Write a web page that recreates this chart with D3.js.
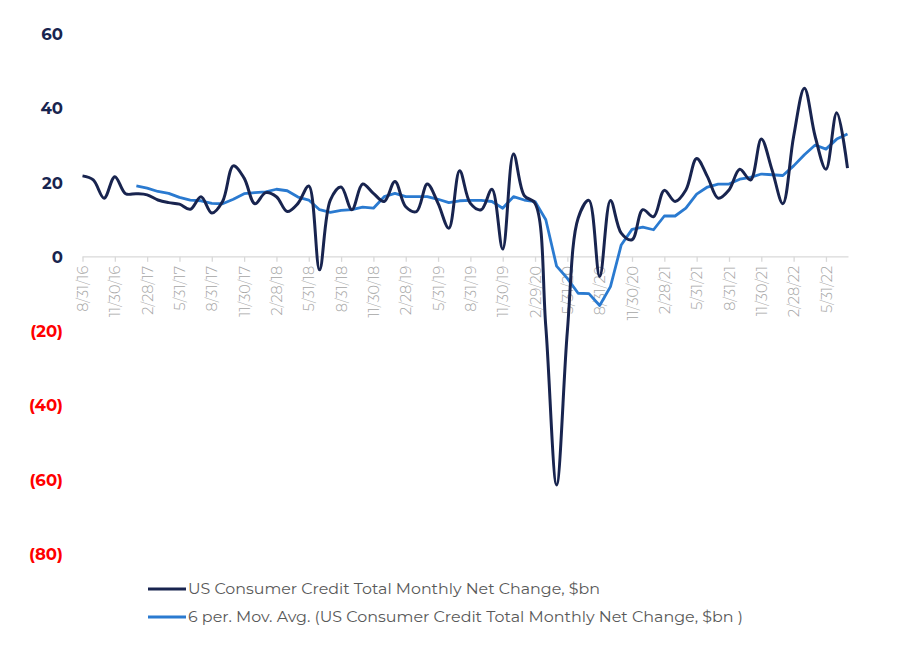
<!DOCTYPE html>
<html>
<head>
<meta charset="utf-8">
<script src="https://cdn.jsdelivr.net/npm/d3@7"></script>
<style>
  html, body { margin: 0; padding: 0; background: #fff; }
  svg { display: block; }
</style>
</head>
<body>
<svg id="chart" width="900" height="652"></svg>
<script>
// ---- data ----
const tickLabels = ["8/31/16","11/30/16","2/28/17","5/31/17","8/31/17","11/30/17","2/28/18","5/31/18",
  "8/31/18","11/30/18","2/28/19","5/31/19","8/31/19","11/30/19","2/29/20","5/31/20","8/31/20",
  "11/30/20","2/28/21","5/31/21","8/31/21","11/30/21","2/28/22","5/31/22"];
const yTicks = [60, 40, 20, 0, -20, -40, -60, -80];

const monthly = [21.8,20.7,15.8,21.6,17,17,16.7,15.3,14.6,14.2,12.8,16.2,11.8,14.9,24.5,21.2,14.3,17.3,
  16.2,12.2,14.4,19.1,-3.5,15.3,18.8,12.7,19.6,17.1,14.9,20.3,13.5,12.2,19.6,14.4,7.7,23.2,14.4,12.7,
  18.2,2.1,27.7,16.5,14.4,-18.8,-61.4,-20,10.4,15.2,-5.3,15.2,6.4,4.6,12.7,10.8,17.9,14.9,18,26.5,
  21.6,15.8,18,23.6,20.7,31.7,23.4,14.3,32.4,45.4,32.4,23.6,38.8,23.9];

const movAvg = [null,null,null,null,null,19.1,18.5,17.6,17.1,16,15.3,15.1,14.4,14.3,15.5,17,17.3,17.5,
  18.2,17.8,16.1,15.3,12.7,12,12.5,12.7,13.4,13.1,16.2,17.1,16.2,16.2,16.2,15.5,14.6,15.1,15.2,15.2,
  14.9,13.1,16.2,15.3,14.9,10,-2.5,-5.8,-9.8,-9.9,-13.1,-8,3.2,7.4,8,7.3,11,11,13.1,16.9,18.8,19.6,
  19.6,20.9,21.4,22.3,22.1,21.9,24.5,27.5,30.1,29,31.7,33.1];

const seriesNames = ["US Consumer Credit Total Monthly Net Change, $bn",
  "6 per. Mov. Avg. (US Consumer Credit Total Monthly Net Change, $bn )"];

// ---- drawing ----
const svg = d3.select("#chart");
const font = "Montserrat, 'Open Sans', 'DejaVu Sans', sans-serif";
const darkColor = "#18244f";
const maColor = "#2a7ad0";

const x = d3.scaleLinear().domain([0, monthly.length - 1]).range([82.5, 847.5]);
const y = d3.scaleLinear().domain([-80, 60]).range([554, 34]);

// y labels
svg.append("g").selectAll("text").data(yTicks).join("text")
  .attr("x", 63).attr("y", d => y(d)).attr("dy", "0.36em")
  .attr("text-anchor", "end")
  .attr("font-family", font).attr("font-size", 16.5).attr("font-weight", 700)
  .attr("fill", d => d < 0 ? "#ff0000" : darkColor)
  .text(d => d < 0 ? "(" + Math.abs(d) + ")" : d);

// x axis
const tickIdx = tickLabels.map((_, i) => i * 3);
const xAxis = d3.axisBottom(x).tickValues(tickIdx).tickSize(5).tickSizeOuter(0)
  .tickFormat((d, i) => tickLabels[i]);
const gx = svg.append("g").attr("transform", `translate(0,${y(0)})`).call(xAxis);
gx.select(".domain").attr("stroke", "#d9d9d9").attr("stroke-width", 1.3)
  .attr("d", `M${x(0)},0H${x(monthly.length - 1) + 1}`);
gx.selectAll(".tick line").attr("stroke", "#d9d9d9").attr("stroke-width", 1.3);
gx.selectAll(".tick text")
  .attr("font-family", font).attr("font-size", 14.5).attr("font-weight", 300).attr("fill", "#a6a6a6")
  .attr("transform", "rotate(-90)")
  .attr("text-anchor", "end")
  .attr("x", -9).attr("y", 0).attr("dy", "0.35em");

// lines
const lineMonthly = d3.line().x((d, i) => x(i)).y(d => y(d)).curve(d3.curveCatmullRom.alpha(0.5));
const lineMA = d3.line().defined(d => d !== null).x((d, i) => x(i)).y(d => y(d));

svg.append("path").datum(movAvg).attr("d", lineMA)
  .attr("fill", "none").attr("stroke", maColor).attr("stroke-width", 2.8)
  .attr("stroke-linejoin", "round");
svg.append("path").datum(monthly).attr("d", lineMonthly)
  .attr("fill", "none").attr("stroke", darkColor).attr("stroke-width", 3)
  .attr("stroke-linejoin", "round");

// legend
const legend = svg.append("g");
const legendItems = [{name: seriesNames[0], color: darkColor, y: 589, w: 412},
                     {name: seriesNames[1], color: maColor, y: 617, w: 555}];
legendItems.forEach(it => {
  legend.append("line").attr("x1", 148).attr("x2", 186).attr("y1", it.y).attr("y2", it.y)
    .attr("stroke", it.color).attr("stroke-width", 3);
  legend.append("text").attr("x", 188).attr("y", it.y).attr("dy", "0.35em")
    .attr("font-family", font).attr("font-size", 15).attr("fill", "#595959")
    .attr("textLength", it.w).attr("lengthAdjust", "spacingAndGlyphs")
    .text(it.name);
});
</script>
</body>
</html>
